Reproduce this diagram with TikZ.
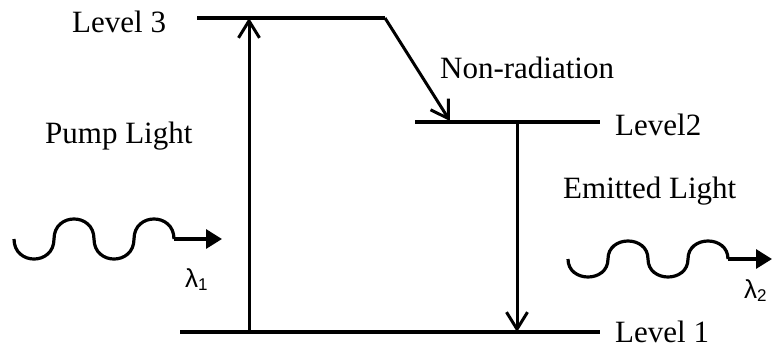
\documentclass[tikz,border=0pt]{standalone}
\usepackage{fontspec}
\setmainfont{Liberation Serif}
\newfontfamily\lamfont{Liberation Sans}
\usetikzlibrary{arrows.meta}
\begin{document}
\begin{tikzpicture}[x=1pt,y=-1pt,
  lvl/.style={line width=3.4pt},
  trans/.style={line width=3pt,-{Straight Barb[length=17pt,width=21pt]}},
  wave/.style={line width=3.2pt},
  wavearrow/.style={line width=3.2pt,-{Triangle[length=16pt,width=19pt]}},
  lbl/.style={font=\fontsize{31}{36}\selectfont, inner sep=0pt, anchor=base west},
  lam/.style={font=\lamfont\fontsize{26}{30}\selectfont, inner sep=0pt, anchor=base west}]
\useasboundingbox (0,0) rectangle (772,349);

% level lines
\coordinate (L3a) at (197,18); \coordinate (L3b) at (385,18);
\coordinate (L2a) at (415,122); \coordinate (L2b) at (600,122);
\coordinate (L1a) at (180,332); \coordinate (L1b) at (600,332);
\draw[lvl] (L3a) -- (L3b);
\draw[lvl] (L2a) -- (L2b);
\draw[lvl] (L1a) -- (L1b);

% transitions
\coordinate (up0) at (249,332); \coordinate (up1) at (249,18);
\coordinate (dn0) at (517,122); \coordinate (dn1) at (517,332);
\coordinate (nr1) at (450,121);
\draw[trans] (up0) -- (up1);
\draw[trans] (dn0) -- (dn1);
\draw[trans] (L3b) -- (nr1);

% pump wave
\coordinate (w1s) at (14,239); \coordinate (w1a) at (54,239);
\coordinate (w1b) at (94,239); \coordinate (w1c) at (134,239);
\coordinate (w1e) at (174,239); \coordinate (w1t) at (222,239);
\draw[wave] (w1s) .. controls +(0,26.7) and +(0,26.7) .. (w1a)
  .. controls +(0,-26.7) and +(0,-26.7) .. (w1b)
  .. controls +(0,26.7) and +(0,26.7) .. (w1c)
  .. controls +(0,-26.7) and +(0,-26.7) .. (w1e);
\draw[wavearrow] (w1e) -- (w1t);

% emitted wave
\coordinate (w2s) at (568,259); \coordinate (w2a) at (608,259);
\coordinate (w2b) at (648,259); \coordinate (w2c) at (688,259);
\coordinate (w2e) at (728,259); \coordinate (w2t) at (772,259);
\draw[wave] (w2s) .. controls +(0,24) and +(0,24) .. (w2a)
  .. controls +(0,-24) and +(0,-24) .. (w2b)
  .. controls +(0,24) and +(0,24) .. (w2c)
  .. controls +(0,-24) and +(0,-24) .. (w2e);
\draw[wavearrow] (w2e) -- (w2t);

% labels
\node[lbl] (t3) at (72,32) {Level 3};
\node[lbl] (t2) at (615,135) {Level2};
\node[lbl] (t1) at (615,342) {Level 1};
\node[lbl] (tnr) at (440,78) {Non-radiation};
\node[lbl] (tpump) at (45,143) {Pump Light};
\node[lbl] (temit) at (563,198) {Emitted Light};
\node[lam] (lam1) at (185,287) {λ\raisebox{-3pt}{\fontsize{17}{17}\selectfont 1}};
\node[lam] (lam2) at (744,298) {λ\raisebox{-3pt}{\fontsize{17}{17}\selectfont 2}};
\end{tikzpicture}
\end{document}
